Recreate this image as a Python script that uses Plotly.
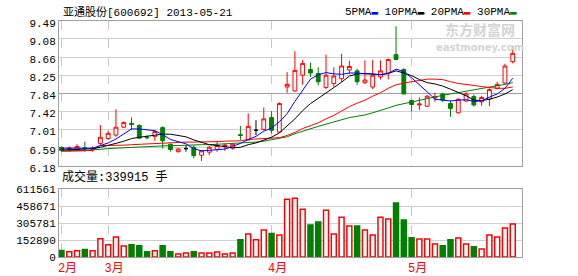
import plotly.graph_objects as go

# ---------------- data ----------------
idx = list(range(59))
opens = [6.60, 6.56, 6.55, 6.59, 6.55, 6.69, 6.80, 6.88, 7.06, 7.15,
         7.10, 6.83, 6.85, 7.05, 6.67, 6.50, 6.57, 6.60, 6.42, 6.49,
         6.55, 6.62, 6.58, 6.89, 6.77, 6.99, 7.01, 7.28, 6.95, 7.98,
         7.89, 8.25, 8.38, 8.29, 7.97, 8.06, 8.17, 8.37, 8.35, 8.08,
         7.98, 8.21, 8.30, 8.72, 8.38, 7.67, 7.57, 7.54, 7.73, 7.82,
         7.60, 7.39, 7.66, 7.76, 7.64, 7.70, 7.95, 8.07, 8.56]
highs = [6.62, 6.62, 6.67, 6.73, 6.62, 7.11, 6.97, 7.47, 7.19, 7.28,
         7.13, 6.87, 6.99, 7.08, 6.68, 6.58, 6.64, 6.64, 6.53, 6.63,
         6.73, 6.68, 6.69, 7.09, 7.38, 7.22, 7.51, 7.43, 7.63, 8.32,
         8.80, 8.60, 8.54, 8.43, 8.72, 8.43, 8.74, 8.58, 8.40, 8.59,
         8.60, 8.59, 8.63, 9.37, 8.41, 7.69, 7.74, 7.79, 7.85, 7.85,
         7.67, 7.72, 7.86, 7.81, 7.78, 7.95, 8.10, 8.51, 8.92]
lows = [6.50, 6.50, 6.54, 6.50, 6.50, 6.65, 6.77, 6.84, 7.04, 7.00,
        6.80, 6.78, 6.75, 6.57, 6.50, 6.48, 6.50, 6.35, 6.29, 6.42,
        6.50, 6.52, 6.55, 6.77, 6.75, 6.88, 6.99, 6.92, 6.93, 7.85,
        7.87, 8.03, 8.21, 8.02, 7.93, 7.99, 8.10, 8.28, 8.03, 8.05,
        7.93, 8.15, 8.15, 8.59, 7.82, 7.42, 7.45, 7.52, 7.64, 7.63,
        7.30, 7.37, 7.64, 7.53, 7.55, 7.54, 7.92, 8.05, 8.52]
closes = [6.53, 6.58, 6.62, 6.57, 6.58, 6.83, 6.92, 7.06, 7.17, 7.12,
          6.81, 6.82, 6.96, 6.75, 6.55, 6.56, 6.57, 6.41, 6.52, 6.60,
          6.64, 6.65, 6.67, 6.87, 7.08, 6.99, 7.25, 6.99, 7.60, 8.04,
          8.36, 8.52, 8.30, 8.10, 8.25, 8.23, 8.46, 8.45, 8.10, 8.14,
          8.25, 8.35, 8.61, 8.61, 7.82, 7.58, 7.59, 7.77, 7.76, 7.68,
          7.49, 7.70, 7.82, 7.57, 7.74, 7.92, 8.04, 8.46, 8.75]
volumes = [59000, 48000, 57000, 68000, 57000, 164000, 110000, 180000, 99000, 110000,
           101000, 48000, 57000, 101000, 48000, 27000, 36000, 48000, 36000, 36000,
           45000, 27000, 36000, 155000, 207000, 155000, 243000, 212000, 198000, 522000,
           531000, 432000, 290000, 317000, 423000, 207000, 360000, 279000, 281000, 243000,
           198000, 360000, 342000, 488000, 335000, 174000, 162000, 162000, 117000, 101000,
           155000, 171000, 117000, 93000, 72000, 198000, 180000, 261000, 297000]
ma5 = [6.58, 6.58, 6.58, 6.58, 6.58, 6.64, 6.70, 6.79, 6.91, 7.02,
       7.02, 7.00, 6.98, 6.89, 6.78, 6.73, 6.68, 6.57, 6.52, 6.53,
       6.55, 6.56, 6.62, 6.69, 6.78, 6.85, 6.97, 7.04, 7.18, 7.37,
       7.65, 7.90, 8.16, 8.26, 8.31, 8.28, 8.27, 8.30, 8.30, 8.28,
       8.28, 8.26, 8.29, 8.39, 8.33, 8.19, 8.04, 7.87, 7.70, 7.68,
       7.66, 7.68, 7.69, 7.65, 7.66, 7.75, 7.82, 7.95, 8.18]
ma10 = [6.54, 6.54, 6.55, 6.56, 6.57, 6.60, 6.64, 6.69, 6.74, 6.80,
        6.83, 6.85, 6.88, 6.90, 6.90, 6.87, 6.84, 6.77, 6.71, 6.66,
        6.64, 6.62, 6.59, 6.60, 6.66, 6.70, 6.77, 6.83, 6.93, 7.08,
        7.25, 7.44, 7.60, 7.72, 7.84, 7.96, 8.09, 8.23, 8.28, 8.29,
        8.28, 8.26, 8.29, 8.35, 8.30, 8.24, 8.15, 8.08, 8.05, 8.00,
        7.93, 7.86, 7.78, 7.68, 7.67, 7.70, 7.75, 7.82, 7.92]
ma20 = [6.52, 6.52, 6.52, 6.52, 6.53, 6.64, 6.64, 6.65, 6.65, 6.66,
        6.67, 6.68, 6.69, 6.69, 6.70, 6.71, 6.72, 6.72, 6.72, 6.73,
        6.73, 6.74, 6.74, 6.75, 6.78, 6.79, 6.80, 6.80, 6.82, 6.87,
        6.94, 7.03, 7.10, 7.16, 7.25, 7.33, 7.43, 7.53, 7.61, 7.68,
        7.77, 7.85, 7.95, 8.03, 8.07, 8.10, 8.12, 8.16, 8.16, 8.15,
        8.10, 8.06, 8.04, 8.01, 7.99, 7.97, 7.95, 7.95, 7.98]
ma30 = [6.51, 6.51, 6.51, 6.52, 6.54, 6.56, 6.57, 6.58, 6.59, 6.60,
        6.61, 6.62, 6.63, 6.63, 6.64, 6.64, 6.65, 6.65, 6.66, 6.66,
        6.67, 6.67, 6.68, 6.69, 6.70, 6.72, 6.74, 6.77, 6.80, 6.84,
        6.91, 6.97, 7.03, 7.08, 7.13, 7.18, 7.23, 7.28, 7.31, 7.34,
        7.39, 7.44, 7.50, 7.56, 7.60, 7.63, 7.67, 7.71, 7.75, 7.79,
        7.82, 7.85, 7.89, 7.92, 7.94, 7.97, 8.00, 8.04, 8.08]
price_ticks = [9.49, 9.08, 8.66, 8.25, 7.84, 7.42, 7.01, 6.59, 6.18]
mid_tick = [7.84]
vol_ticks = [0, 152890, 305781, 458671, 611561]
month_pos = [0, 6, 27, 45]
month_labels = ["2月", "3月", "4月", "5月"]
title_text = "亚通股份[600692] 2013-05-21"
vol_label = "成交量:339915 手"

RED = "#ff0000"
GREEN = "#008000"
FONT = "Liberation Mono, Noto Sans CJK SC, monospace"

doji = [o == c for o, c in zip(opens, closes)]
up = [c >= o for o, c in zip(opens, closes)]

def pick(arr, mask):
    return [a for a, m in zip(arr, mask) if m]

normal = [not d for d in doji]
down = [not u for u in up]

fig = go.Figure()

# candles
fig.add_trace(go.Candlestick(
    x=pick(idx, normal), open=pick(opens, normal), high=pick(highs, normal),
    low=pick(lows, normal), close=pick(closes, normal),
    increasing=dict(line=dict(color=RED, width=1), fillcolor="white"),
    decreasing=dict(line=dict(color=GREEN, width=1), fillcolor=GREEN),
    whiskerwidth=0, showlegend=False, hoverinfo="skip", xaxis="x", yaxis="y"))
fig.add_trace(go.Candlestick(
    x=pick(idx, doji), open=pick(opens, doji), high=pick(highs, doji),
    low=pick(lows, doji), close=pick(closes, doji),
    increasing=dict(line=dict(color="black", width=1), fillcolor="black"),
    decreasing=dict(line=dict(color="black", width=1), fillcolor="black"),
    whiskerwidth=0, showlegend=False, hoverinfo="skip", xaxis="x", yaxis="y"))

# moving averages
for arr, col in [(ma30, GREEN), (ma20, RED), (ma10, "black"), (ma5, "#0000ff")]:
    fig.add_trace(go.Scatter(x=idx, y=arr, mode="lines", line=dict(color=col, width=1),
                             showlegend=False, hoverinfo="skip", xaxis="x", yaxis="y"))

# volume
fig.add_trace(go.Bar(x=pick(idx, up), y=pick(volumes, up), width=0.64,
                     marker=dict(color="white", line=dict(color=RED, width=1.5)),
                     showlegend=False, hoverinfo="skip", xaxis="x2", yaxis="y2"))
fig.add_trace(go.Bar(x=pick(idx, down), y=pick(volumes, down), width=0.64,
                     marker=dict(color=GREEN, line=dict(color=GREEN, width=1.5)),
                     showlegend=False, hoverinfo="skip", xaxis="x2", yaxis="y2"))

# invisible helper so the overlay axis carrying the darker middle grid line renders
fig.add_trace(go.Scatter(x=[idx[0]], y=[mid_tick[0]], mode="markers", marker=dict(opacity=0),
                         showlegend=False, hoverinfo="skip", xaxis="x", yaxis="y3"))

frame = dict(showline=True, mirror=True, linecolor="#a0a0a0", linewidth=1,
             zeroline=False, automargin=False)
xr = [-0.32, 59.19]

fig.update_layout(
    width=578, height=276, autosize=False,
    margin=dict(l=59, r=56, t=21, b=19, autoexpand=False),
    paper_bgcolor="white", plot_bgcolor="white",
    barmode="overlay", showlegend=False,
    font=dict(family=FONT, size=11, color="black"),
    xaxis=dict(domain=[0, 1], anchor="y", range=xr, tickvals=month_pos,
               showticklabels=False, ticks="", showgrid=True, gridcolor="#c8c8c8",
               griddash="dash", rangeslider=dict(visible=False), **frame),
    yaxis=dict(domain=[0.387, 1], anchor="x", range=[6.18, 9.49], tickvals=price_ticks,
               ticktext=[f"{v:.2f}" for v in price_ticks], ticks="",
               showgrid=True, gridcolor="#d0d0d0", ticklabelshift=2,
               tickfont=dict(size=11), **frame),
    yaxis3=dict(overlaying="y", anchor="x", range=[6.18, 9.49], tickvals=mid_tick,
                showticklabels=False, ticks="", showgrid=True, gridcolor="#a0a0a0",
                zeroline=False, showline=False, automargin=False),
    xaxis2=dict(domain=[0, 1], anchor="y2", range=xr, tickvals=month_pos,
                ticktext=month_labels, ticks="", ticklabelshift=6,
                tickfont=dict(color=RED, size=12), showgrid=True, gridcolor="#c8c8c8",
                griddash="dash", rangeslider=dict(visible=False), **frame),
    yaxis2=dict(domain=[0, 0.287], anchor="x2", range=[0, 611561], tickvals=vol_ticks,
                ticktext=[str(v) for v in vol_ticks], ticks="", showgrid=True,
                gridcolor="#d0d0d0", tickfont=dict(size=11), **frame),
)

ann = []
ann.append(dict(text=title_text, xref="paper", yref="paper", x=0.005, y=1.038,
                xanchor="left", yanchor="middle", showarrow=False,
                font=dict(size=11, family=FONT)))
legend_html = ("5PMA<span style='color:#0000ff'>▬</span> "
               "10PMA<span style='color:#000000'>▬</span> "
               "20PMA<span style='color:#ff0000'>▬</span> "
               "30PMA<span style='color:#008000'>▬</span>")
ann.append(dict(text=legend_html, xref="paper", yref="paper", x=0.994, y=1.038,
                xanchor="right", yanchor="middle", showarrow=False,
                font=dict(size=11, family=FONT)))
ann.append(dict(text=vol_label, xref="paper", yref="paper", x=0.002, y=0.340,
                xanchor="left", yanchor="middle", showarrow=False,
                font=dict(size=12, family=FONT)))
ann.append(dict(text="<b>东方财富网</b>", xref="paper", yref="paper", x=0.91, y=0.965,
                xanchor="center", yanchor="middle", showarrow=False,
                font=dict(size=14, family="Noto Sans CJK SC", color="#d4d4d4")))
ann.append(dict(text="<b>eastmoney.com</b>", xref="paper", yref="paper", x=0.91, y=0.888,
                xanchor="center", yanchor="middle", showarrow=False,
                font=dict(size=10, family="DejaVu Sans", color="#d4d4d4")))
fig.update_layout(annotations=ann)

fig.write_html("out.html")
